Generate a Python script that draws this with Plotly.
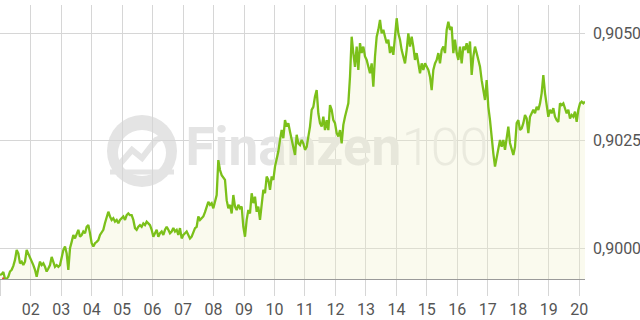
import numpy as np
import plotly.graph_objects as go

# --- data ---
day_start = 0.993
day_end = 20.19

price = [
    # day 1 - 4.2
    0.89938, 0.89940, 0.89945, 0.89929, 0.89929, 0.89934, 0.89946, 0.89950, 0.89959, 0.89973,
    0.89996, 0.89988, 0.89965, 0.89969, 0.89961, 0.89969, 0.89996, 0.89988, 0.89977, 0.89969,
    0.89961, 0.89950, 0.89934, 0.89953, 0.89969, 0.89961, 0.89965, 0.89957, 0.89946, 0.89953,
    0.89961, 0.89980, 0.89969, 0.89957, 0.89961, 0.89957, 0.89961, 0.89977, 0.89996, 0.90004,
    0.89988, 0.89950, 0.90000, 0.90015, 0.90031, 0.90023, 0.90035, 0.90043, 0.90027, 0.90031,
    0.90039, 0.90035, 0.90050, 0.90054, 0.90035, 0.90012, 0.90004, 0.90012, 0.90015, 0.90019,
    # day 4.3 - 7.5
    0.90031, 0.90038, 0.90043, 0.90059, 0.90074, 0.90085, 0.90074, 0.90066, 0.90070, 0.90062,
    0.90066, 0.90058, 0.90066, 0.90070, 0.90074, 0.90066, 0.90077, 0.90081, 0.90077, 0.90077,
    0.90066, 0.90047, 0.90043, 0.90050, 0.90054, 0.90050, 0.90058, 0.90054, 0.90062, 0.90058,
    0.90054, 0.90043, 0.90027, 0.90035, 0.90043, 0.90027, 0.90035, 0.90039, 0.90031, 0.90043,
    0.90050, 0.90043, 0.90035, 0.90039, 0.90047, 0.90039, 0.90043, 0.90031, 0.90047, 0.90023,
    0.90031, 0.90035, 0.90039, 0.90031, 0.90023, 0.90027, 0.90035, 0.90047, 0.90050, 0.90074,
    # day 7.6 - 10.8
    0.90066, 0.90070, 0.90074, 0.90084, 0.90097, 0.90108, 0.90101, 0.90105, 0.90093, 0.90112,
    0.90124, 0.90205, 0.90182, 0.90170, 0.90163, 0.90159, 0.90112, 0.90093, 0.90101, 0.90081,
    0.90124, 0.90097, 0.90089, 0.90101, 0.90093, 0.90097, 0.90050, 0.90027, 0.90066, 0.90089,
    0.90081, 0.90128, 0.90105, 0.90120, 0.90085, 0.90097, 0.90066, 0.90105, 0.90136, 0.90128,
    0.90167, 0.90159, 0.90136, 0.90167, 0.90159, 0.90190, 0.90205, 0.90225, 0.90252, 0.90275,
    0.90256, 0.90298, 0.90283, 0.90291, 0.90271, 0.90252, 0.90236, 0.90217, 0.90264, 0.90244,
    # day 10.8 - 14.1
    0.90240, 0.90252, 0.90244, 0.90229, 0.90236, 0.90260, 0.90283, 0.90322, 0.90329, 0.90353,
    0.90368, 0.90314, 0.90291, 0.90283, 0.90306, 0.90275, 0.90298, 0.90275, 0.90333, 0.90322,
    0.90298, 0.90291, 0.90268, 0.90260, 0.90275, 0.90244, 0.90287, 0.90306, 0.90322, 0.90337,
    0.90399, 0.90492, 0.90454, 0.90422, 0.90469, 0.90415, 0.90477, 0.90454, 0.90469, 0.90446,
    0.90438, 0.90422, 0.90407, 0.90430, 0.90376, 0.90446, 0.90492, 0.90508, 0.90531, 0.90500,
    0.90508, 0.90492, 0.90477, 0.90485, 0.90454, 0.90469, 0.90450, 0.90492, 0.90535, 0.90500,
    # day 14.1 - 17.3
    0.90485, 0.90461, 0.90446, 0.90430, 0.90461, 0.90500, 0.90469, 0.90492, 0.90469, 0.90438,
    0.90454, 0.90430, 0.90407, 0.90430, 0.90415, 0.90430, 0.90422, 0.90415, 0.90399, 0.90368,
    0.90415, 0.90430, 0.90438, 0.90454, 0.90430, 0.90461, 0.90469, 0.90454, 0.90508, 0.90527,
    0.90508, 0.90515, 0.90454, 0.90485, 0.90454, 0.90438, 0.90469, 0.90430, 0.90469, 0.90461,
    0.90477, 0.90454, 0.90481, 0.90403, 0.90446, 0.90469, 0.90454, 0.90438, 0.90422, 0.90391,
    0.90368, 0.90345, 0.90391, 0.90329, 0.90298, 0.90252, 0.90221, 0.90190, 0.90213, 0.90229,
    # day 17.4 - 20.2
    0.90252, 0.90236, 0.90252, 0.90229, 0.90260, 0.90283, 0.90245, 0.90229, 0.90217, 0.90236,
    0.90291, 0.90298, 0.90275, 0.90279, 0.90291, 0.90310, 0.90302, 0.90268, 0.90306, 0.90314,
    0.90322, 0.90314, 0.90329, 0.90322, 0.90337, 0.90361, 0.90403, 0.90361, 0.90329, 0.90306,
    0.90322, 0.90314, 0.90326, 0.90306, 0.90298, 0.90294, 0.90337, 0.90333, 0.90337, 0.90326,
    0.90314, 0.90322, 0.90302, 0.90310, 0.90306, 0.90318, 0.90294, 0.90322, 0.90337, 0.90341,
    0.90337, 0.90341,
]

red_days = [1.09, 1.14]
red_price = [0.89932, 0.89915]

tick_days = list(range(1, 21))
tick_labels = [""] + ["%02d" % d for d in range(2, 21)]
y_ticks = [0.9000, 0.9025, 0.9050]
y_labels = ["0,9000", "0,9025", "0,9050"]
y_range = [0.899286, 0.905658]

days = np.linspace(day_start, day_end, len(price))

GREEN = "#7bc01a"
GRID = "#d6d6d6"
WM = "#e4e4e4"

fig = go.Figure()

# watermark text (drawn beneath the price line)
fig.add_trace(go.Scatter(
    x=[10.62], y=[0.90224], mode="text", text=["Finanzen"],
    textfont=dict(family="Roboto", size=53, color=WM, weight=700),
    hoverinfo="skip", showlegend=False, cliponaxis=False))
fig.add_trace(go.Scatter(
    x=[15.60], y=[0.90224], mode="text", text=["100"],
    textfont=dict(family="Roboto", size=52, color="#e9e9e9", weight=300),
    hoverinfo="skip", showlegend=False, cliponaxis=False))

fig.add_trace(go.Scatter(
    x=days, y=price, mode="lines",
    line=dict(color=GREEN, width=2.3),
    fill="tozeroy", fillcolor="rgba(240,240,200,0.30)",
    hoverinfo="skip", showlegend=False))

fig.add_trace(go.Scatter(
    x=red_days, y=red_price, mode="lines",
    line=dict(color="#e8452c", width=2),
    hoverinfo="skip", showlegend=False))

# globe logo of the watermark
shapes = [
    dict(type="circle", xref="paper", yref="paper", layer="below",
         x0=107/585, x1=177/585, y0=(279-187)/274, y1=(279-115)/274,
         fillcolor=WM, line=dict(width=0)),
    dict(type="circle", xref="paper", yref="paper", layer="below",
         x0=118/585, x1=166/585, y0=(279-176)/274, y1=(279-130)/274,
         fillcolor="white", line=dict(width=0)),
    dict(type="path", xref="paper", yref="paper", layer="below",
         path="M %f %f L %f %f L %f %f L %f %f L %f %f" % (
             118/585, (279-166)/274, 132/585, (279-150)/274,
             142/585, (279-158)/274, 156/585, (279-140)/274,
             166/585, (279-136)/274),
         line=dict(color=WM, width=6)),
    dict(type="line", xref="paper", yref="paper", layer="below",
         x0=110/585, x1=174/585, y0=(279-172)/274, y1=(279-172)/274,
         line=dict(color=WM, width=5)),
]

fig.update_layout(
    width=640, height=320,
    margin=dict(l=0, r=55, t=5, b=41),
    paper_bgcolor="white", plot_bgcolor="white",
    font=dict(family="Roboto", color="#555555", size=16),
    shapes=shapes,
    xaxis=dict(
        range=[day_start, day_end], tickmode="array",
        tickvals=tick_days, ticktext=tick_labels,
        showgrid=True, gridcolor=GRID, gridwidth=1,
        ticks="outside", ticklen=16, tickcolor=GRID, tickwidth=1,
        showline=True, linecolor="#9a9a9a", linewidth=1,
        zeroline=False, tickfont=dict(size=16, color="#555555"),
        fixedrange=True),
    yaxis=dict(
        range=y_range, side="right", tickmode="array",
        tickvals=y_ticks, ticktext=y_labels,
        showgrid=True, gridcolor=GRID, gridwidth=1,
        ticks="", ticklabelstandoff=7, zeroline=False, showline=False,
        tickfont=dict(size=16, color="#555555"), fixedrange=True),
)

fig.write_html("out.html", config={"displayModeBar": False})
